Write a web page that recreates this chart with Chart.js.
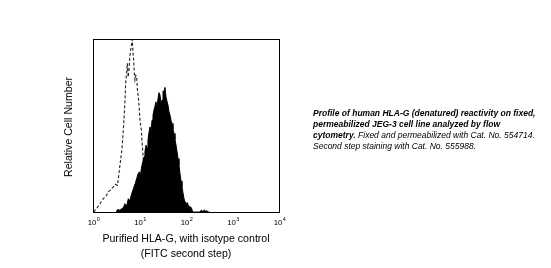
<!DOCTYPE html>
<html><head><meta charset="utf-8">
<script src="https://cdn.jsdelivr.net/npm/chart.js@4"></script>
<style>
html,body{margin:0;padding:0;background:#fff;}
#wrap{position:relative;width:551px;height:268px;overflow:hidden;font-family:"Liberation Sans",Arial,sans-serif;}
#c{position:absolute;left:0;top:0;}
.t{position:absolute;color:#000;white-space:nowrap;}
#ytitle{left:68px;top:127px;font-size:10.6px;transform:translate(-50%,-50%) rotate(-90deg);}
#xtitle{left:186px;top:231px;font-size:10.6px;line-height:14.5px;text-align:center;transform:translateX(-50%);}
#cap{left:313px;top:108px;font-size:8.5px;line-height:10.9px;font-style:italic;}
#cap b{font-weight:bold;}
</style></head>
<body><div id="wrap">
<canvas id="c" width="551" height="268"></canvas>
<div class="t" id="ytitle">Relative Cell Number</div>
<div class="t" id="xtitle">Purified HLA-G, with isotype control<br>(FITC second step)</div>
<div class="t" id="cap"><b>Profile of human HLA-G (denatured) reactivity on fixed,<br>permeabilized JEG-3 cell line analyzed by flow<br>cytometry.</b> Fixed and permeabilized with Cat. No. 554714.<br>Second step staining with Cat. No. 555988.</div>
</div>
<script>
const decadeTicks = [1, 10, 100, 1000, 10000];
const tickExponents = ['0', '1', '2', '3', '4'];

const isotypeX = [1.05,1.10,1.20,1.30,1.41,1.55,1.67,1.80,1.97,2.10,2.32,2.50,2.74,3.0,3.34,3.50,3.68,4.0,4.17,4.34,4.55,4.72,4.90,5.04,5.25,5.47,5.70,5.94,6.20,6.46,6.75,7.01,7.25,7.49,7.75,8.0,8.35,8.69,9.05,9.44,9.85,10.25,10.6,10.95,11.3,11.7,12.1,12.5,12.9,13.3,13.8,14.3];
const isotypeY = [0,1.0,1.9,3.5,4.8,6.5,7.7,8.5,9.7,11.5,12.5,13.5,14.5,16,15.4,19,24,31.9,36,41.5,50,57,66,74.3,80,85.9,78,82,90,93.6,97,99.8,92,87.8,80,76.3,79,78.2,70,66.6,60,53.1,50,47.3,41,35.7,30,24.1,17,10.6,5,0];

const stainX = [3.2,3.3,3.51,3.8,4.13,4.5,4.88,5.3,5.75,6.2,6.79,7.2,7.62,8.1,8.69,9.3,9.91,10.5,11.1,11.8,12.5,13.1,13.8,14.5,15.2,16.0,16.8,17.7,18.6,19.5,20.5,21.5,22.6,23.8,25.0,26.3,27.6,29.0,30.5,32.0,33.6,35.3,37.1,39.0,41.0,43.1,45.3,47.6,50.0,52.5,55.2,58.0,61.0,64.1,67.3,70.7,74.3,78.1,82.0,86.2,90.6,95.2,100,106,112,119,126,132,139,160,200,215,230,250,265,280,300,320];
const stainY = [0,1.2,1.4,1.0,1.9,2.5,4.8,3.5,7.7,6.5,10.6,12.5,14.5,16.5,19.3,22,23.2,21.5,26.1,29,31.9,35,38.6,37,41.5,46,49.2,47,53.1,56,58.9,61,63.7,60,65.6,69,67.6,63,64.7,70,69.5,72,66.6,64,61.8,58,56,53,51.2,48,45.4,42,38.6,35,30.9,27,22.2,18,14.5,11,7.7,6,4.8,5.5,3.9,3.0,2.9,2.0,0,0,0,1.2,0,1.3,0,0.8,0,0];

const framePlugin = {
  id: 'frame',
  afterDraw(chart) {
    const ctx = chart.ctx, a = chart.chartArea, xs = chart.scales.x;
    ctx.save();
    ctx.strokeStyle = '#000';
    ctx.lineWidth = 1;
    ctx.strokeRect(Math.round(a.left) + 0.5, Math.round(a.top) + 0.5, Math.round(a.right - a.left), Math.round(a.bottom - a.top));
    ctx.fillStyle = '#000';
    ctx.textBaseline = 'alphabetic';
    decadeTicks.forEach((v, i) => {
      const px = xs.getPixelForValue(v);
      ctx.font = '7.8px "Liberation Sans", Arial, sans-serif';
      const wb = ctx.measureText('10').width;
      ctx.font = '5.5px "Liberation Sans", Arial, sans-serif';
      const we = ctx.measureText(tickExponents[i]).width;
      const x0 = px - (wb + we) / 2 + 0.5;
      ctx.font = '7.8px "Liberation Sans", Arial, sans-serif';
      ctx.fillText('10', x0, a.bottom + 12.5);
      ctx.font = '5.5px "Liberation Sans", Arial, sans-serif';
      ctx.fillText(tickExponents[i], x0 + wb + 0.4, a.bottom + 8.5);
    });
    ctx.restore();
  }
};

const toPts = (xs, ys) => xs.map((x, i) => ({x: x, y: ys[i]}));

new Chart(document.getElementById('c'), {
  type: 'line',
  data: {
    datasets: [
      {
        label: 'HLA-G',
        data: toPts(stainX, stainY),
        borderColor: '#000',
        backgroundColor: '#000',
        borderWidth: 1,
        fill: 'origin',
        pointRadius: 0,
        tension: 0,
        order: 1
      },
      {
        label: 'Isotype control',
        data: toPts(isotypeX, isotypeY),
        borderColor: '#222',
        borderWidth: 1.1,
        borderDash: [3, 2],
        fill: false,
        pointRadius: 0,
        tension: 0,
        order: 2
      }
    ]
  },
  options: {
    responsive: false,
    animation: false,
    events: [],
    layout: {padding: {left: 93, right: 272, top: 39, bottom: 0}},
    plugins: {legend: {display: false}, tooltip: {enabled: false}},
    scales: {
      x: {
        type: 'logarithmic', min: 1, max: 10000,
        grid: {display: false}, border: {display: false},
        ticks: {display: false},
        afterFit(s) { s.height = 56; }
      },
      y: {
        min: 0, max: 100,
        grid: {display: false}, border: {display: false},
        ticks: {display: false},
        afterFit(s) { s.width = 0; }
      }
    }
  },
  plugins: [framePlugin]
});
</script>
</body></html>
